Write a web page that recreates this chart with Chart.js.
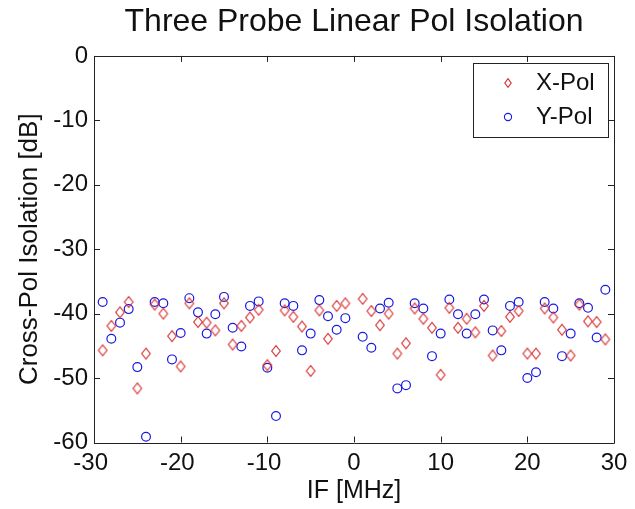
<!DOCTYPE html>
<html>
<head>
<meta charset="utf-8">
<script src="https://cdn.jsdelivr.net/npm/chart.js@4.4.0/dist/chart.umd.min.js"></script>
<style>
html,body{margin:0;padding:0;background:#fff;}
#c{display:block;}
</style>
</head>
<body>
<canvas id="c" width="635" height="509"></canvas>
<script>
// ---- data ----
const freqs = [-29,-28,-27,-26,-25,-24,-23,-22,-21,-20,-19,-18,-17,-16,-15,-14,-13,-12,-11,-10,-9,-8,-7,-6,-5,-4,-3,-2,-1,
               1,2,3,4,5,6,7,8,9,10,11,12,13,14,15,16,17,18,19,20,21,22,23,24,25,26,27,28,29];
const xPol = [-45.7,-41.9,-39.8,-38.2,-51.6,-46.2,-38.6,-40.0,-43.5,-48.2,-38.4,-41.3,-41.4,-42.6,-38.4,-44.8,-41.9,-40.6,-39.4,-48.0,-45.8,-39.5,-40.5,-42.0,-48.9,-39.5,-43.9,-38.8,-38.4,
              -37.7,-39.6,-41.8,-40.0,-46.2,-44.6,-39.2,-40.8,-42.2,-49.5,-39.1,-42.2,-40.8,-42.9,-38.8,-46.5,-42.7,-40.5,-39.6,-46.2,-46.2,-39.2,-40.6,-42.5,-46.5,-38.6,-41.2,-41.3,-44.0];
const yPol = [-38.2,-43.9,-41.4,-39.3,-48.3,-59.1,-38.2,-38.4,-47.1,-43.0,-37.6,-39.8,-43.1,-40.1,-37.4,-42.2,-45.1,-38.8,-38.1,-48.4,-55.9,-38.4,-38.8,-45.7,-43.1,-37.9,-40.4,-42.5,-40.7,
              -43.6,-45.3,-39.2,-38.3,-51.6,-51.1,-38.4,-39.2,-46.6,-43.1,-37.8,-40.1,-43.1,-40.1,-37.8,-42.6,-45.7,-38.8,-38.2,-50.0,-49.1,-38.2,-39.2,-46.6,-43.1,-38.4,-39.1,-43.7,-36.3];
const seriesNames = ['X-Pol', 'Y-Pol'];
const xTicks = [-30,-20,-10,0,10,20,30];
const yTicks = [0,-10,-20,-30,-40,-50,-60];

const RED = 'rgb(215,45,45)';
const BLUE = 'rgb(25,25,225)';
const FONT = '"Liberation Sans", Arial, Helvetica, sans-serif';

function makeDiamond(hw, hh, color) {
  const c = document.createElement('canvas');
  const w = Math.ceil(hw * 2 + 3), h = Math.ceil(hh * 2 + 3);
  c.width = w; c.height = h;
  const g = c.getContext('2d');
  const cx = w / 2, cy = h / 2;
  g.strokeStyle = color; g.lineWidth = 1.1;
  g.beginPath();
  g.moveTo(cx, cy - hh); g.lineTo(cx + hw, cy); g.lineTo(cx, cy + hh); g.lineTo(cx - hw, cy); g.closePath();
  g.stroke();
  return c;
}
const diamond = makeDiamond(4.3, 5.4, RED);

const toPts = (vals) => freqs.map((f, i) => ({x: f, y: vals[i]}));

const framePlugin = {
  id: 'frame',
  afterDraw(chart) {
    const {ctx, chartArea: a, scales: {x, y}} = chart;
    ctx.save();
    ctx.strokeStyle = '#222';
    ctx.lineWidth = 1;
    ctx.beginPath();
    ctx.rect(Math.round(a.left) + 0.5, Math.round(a.top) + 0.5, Math.round(a.right - a.left), Math.round(a.bottom - a.top));
    ctx.stroke();
    const tl = 6;
    ctx.beginPath();
    xTicks.forEach(v => {
      const px = Math.round(x.getPixelForValue(v)) + 0.5;
      ctx.moveTo(px, a.bottom); ctx.lineTo(px, a.bottom - tl);
      ctx.moveTo(px, a.top); ctx.lineTo(px, a.top + tl);
    });
    yTicks.forEach(v => {
      const py = Math.round(y.getPixelForValue(v)) + 0.5;
      ctx.moveTo(a.left, py); ctx.lineTo(a.left + tl, py);
      ctx.moveTo(a.right, py); ctx.lineTo(a.right - tl, py);
    });
    ctx.stroke();

    // legend
    const L = {x: 473, y: 63, w: 135, h: 74};
    ctx.fillStyle = '#fff';
    ctx.fillRect(L.x, L.y, L.w, L.h);
    ctx.strokeStyle = '#222';
    ctx.strokeRect(L.x + 0.5, L.y + 0.5, L.w, L.h);
    const rows = [L.y + 20, L.y + 54];
    const mx = 508;
    ctx.drawImage(makeDiamond(3.2, 4.4, RED), mx - 5, rows[0] - 6);
    ctx.strokeStyle = BLUE; ctx.lineWidth = 1.1;
    ctx.beginPath(); ctx.arc(mx, rows[1], 3.6, 0, Math.PI * 2); ctx.stroke();
    ctx.fillStyle = '#111';
    ctx.font = '24px ' + FONT;
    ctx.textBaseline = 'middle';
    ctx.textAlign = 'left';
    ctx.fillText(chart.data.datasets[0].label, 536, rows[0]);
    ctx.fillText(chart.data.datasets[1].label, 536, rows[1]);
    ctx.restore();
  }
};

new Chart(document.getElementById('c'), {
  type: 'scatter',
  data: {
    datasets: [
      {label: seriesNames[0], data: toPts(xPol), pointStyle: diamond, borderColor: RED, backgroundColor: 'transparent', pointRadius: 5},
      {label: seriesNames[1], data: toPts(yPol), pointStyle: 'circle', pointRadius: 4.4, pointBorderWidth: 1.2, borderColor: BLUE, backgroundColor: 'transparent'}
    ]
  },
  options: {
    responsive: false,
    animation: false,
    devicePixelRatio: 1,
    layout: {padding: {left: 0, right: 21, top: 0, bottom: 0}},
    plugins: {
      legend: {display: false},
      tooltip: {enabled: false},
      title: {
        display: true,
        fullSize: false,
        text: 'Three Probe Linear Pol Isolation',
        color: '#111',
        font: {family: FONT, size: 32, weight: 'normal'},
        padding: {top: 3, bottom: 14.5}
      }
    },
    scales: {
      x: {
        type: 'linear', min: -30, max: 30,
        afterFit(s) { s.height = 66.5; },
        afterBuildTicks(s) { s.ticks = xTicks.map(v => ({value: v})); },
        grid: {display: false, drawTicks: false},
        border: {display: false},
        ticks: {color: '#111', font: {family: FONT, size: 24}, padding: 6, maxRotation: 0, autoSkip: false,
                callback: (v) => v < 0 ? v + ' ' : String(v)},
        title: {display: true, text: 'IF [MHz]', color: '#111', font: {family: FONT, size: 25}, padding: {top: 0, bottom: 3}}
      },
      y: {
        type: 'linear', min: -60, max: 0,
        afterFit(s) { s.width = 94; },
        afterBuildTicks(s) { s.ticks = yTicks.map(v => ({value: v})); },
        grid: {display: false, drawTicks: false},
        border: {display: false},
        ticks: {color: '#111', font: {family: FONT, size: 24}, padding: 6, autoSkip: false},
        title: {display: true, text: 'Cross-Pol Isolation [dB]', color: '#111', font: {family: FONT, size: 26}, padding: {top: 14, bottom: 0}}
      }
    }
  },
  plugins: [framePlugin]
});
</script>
</body>
</html>
